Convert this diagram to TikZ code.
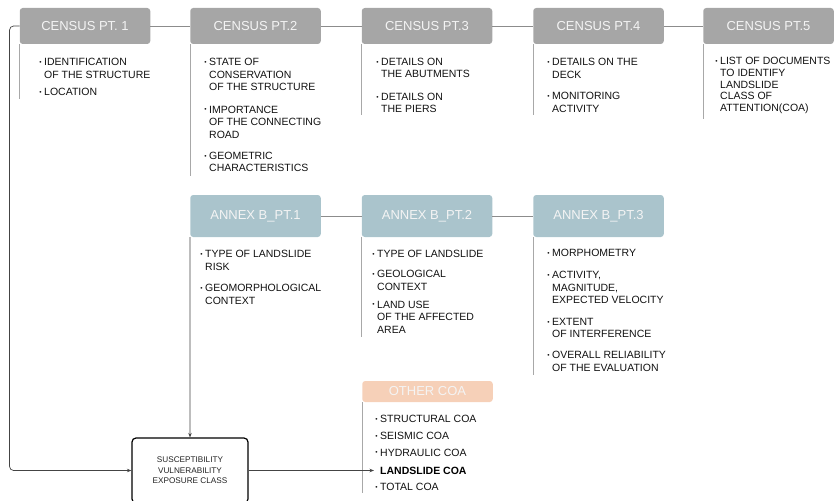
\documentclass[tikz,border=0pt]{standalone}
\usepackage{fontspec}
\setmainfont{Liberation Sans}
\usetikzlibrary{arrows.meta}
\definecolor{censusgray}{HTML}{A6A6A6}
\definecolor{annexblue}{HTML}{AAC4CC}
\definecolor{coapeach}{HTML}{F6D0B8}
\definecolor{titletxt}{HTML}{F4F4F4}
\definecolor{itemtxt}{HTML}{111111}
\definecolor{connclr}{HTML}{8C8C8C}
\definecolor{vlineclr}{HTML}{A8A8A8}
\definecolor{flowclr}{HTML}{444444}
\definecolor{sveclr}{HTML}{222222}
\newcommand{\bul}{\llap{\raisebox{1.2pt}{\fontsize{6.5}{6.5}\selectfont\textbullet}\hspace{2.5pt}}}
\begin{document}
\begin{tikzpicture}[x=1pt,y=-1pt,
  hdr/.style={minimum height=36pt, minimum width=130.5pt, inner sep=0pt, rounded corners=3pt, text=titletxt, font=\fontsize{13}{15}\selectfont},
  census/.style={hdr, fill=censusgray},
  annex/.style={hdr, fill=annexblue, minimum height=42pt},
  coa/.style={hdr, fill=coapeach, minimum height=21pt},
  item/.style={anchor=west, align=left, inner sep=0pt, text=itemtxt, font=\fontsize{10.5}{12.5}\selectfont},
  conn/.style={draw=connclr, line width=0.8pt},
  vline/.style={draw=vlineclr, line width=0.8pt},
  flow/.style={draw=flowclr, line width=0.7pt, -{Stealth[length=4.5pt,width=3.5pt]}},
  svebox/.style={draw=black, line width=1.2pt, rounded corners=4pt, minimum width=116pt, minimum height=65pt, align=center, inner sep=0pt, text=sveclr, font=\fontsize{8.2}{10.5}\selectfont}
]
\useasboundingbox (0,0) rectangle (834,500);

% census headers
\node[census] (c1) at (85,26) {CENSUS PT. 1};
\node[census] (c2) at (255.5,26) {CENSUS PT.2};
\node[census] (c3) at (427,26) {CENSUS PT.3};
\node[census] (c4) at (598.5,26) {CENSUS PT.4};
\node[census] (c5) at (768.5,26) {CENSUS PT.5};
\draw[conn] (c1.east) -- (c2.west);
\draw[conn] (c2.east) -- (c3.west);
\draw[conn] (c3.east) -- (c4.west);
\draw[conn] (c4.east) -- (c5.west);

\draw[vline] (c1.south west) -- ++(0,55);
\draw[vline] (c2.south west) -- ++(0,132);
\draw[vline] (c3.south west) -- ++(0,71);
\draw[vline] (c4.south west) -- ++(0,71);
\draw[vline] (c5.south west) -- ++(0,75);

% census items
\node[item] (c1i1) at (44,68.5) {\bul IDENTIFICATION\\OF THE STRUCTURE};
\node[item] (c1i2) at (44,92) {\bul LOCATION};
\node[item] (c2i1) at (209,74.5) {\bul STATE OF\\CONSERVATION\\OF THE STRUCTURE};
\node[item] (c2i2) at (209,122) {\bul IMPORTANCE\\OF THE CONNECTING\\ROAD};
\node[item] (c2i3) at (209,162) {\bul GEOMETRIC\\CHARACTERISTICS};
\node[item] (c3i1) at (381,68) {\bul DETAILS ON\\THE ABUTMENTS};
\node[item] (c3i2) at (381,103) {\bul DETAILS ON\\THE PIERS};
\node[item] (c4i1) at (552,68.5) {\bul DETAILS ON THE\\DECK};
\node[item] (c4i2) at (552,102.5) {\bul MONITORING\\ACTIVITY};
\node[item, font=\fontsize{10.5}{11.75}\selectfont] (c5i1) at (720,85.5) {\bul LIST OF DOCUMENTS\\TO IDENTIFY\\LANDSLIDE\\CLASS OF\\ATTENTION(COA)};

% annex headers
\node[annex] (a1) at (255.5,216) {ANNEX B\_PT.1};
\node[annex] (a2) at (427,216) {ANNEX B\_PT.2};
\node[annex] (a3) at (598.5,216) {ANNEX B\_PT.3};
\draw[conn] (a1.east) -- (a2.west);
\draw[conn] (a2.east) -- (a3.west);
\draw[vline] (a2.south west) -- ++(0,100);
\draw[vline] (a3.south west) -- ++(0,138);

% annex items
\node[item] (a1i1) at (205,260.5) {\bul TYPE OF LANDSLIDE\\RISK};
\node[item] (a1i2) at (205,294.5) {\bul GEOMORPHOLOGICAL\\CONTEXT};
\node[item] (a2i1) at (377,254) {\bul TYPE OF LANDSLIDE};
\node[item] (a2i2) at (377,280.5) {\bul GEOLOGICAL\\CONTEXT};
\node[item] (a2i3) at (377,317) {\bul LAND USE\\OF THE AFFECTED\\AREA};
\node[item] (a3i1) at (552,253) {\bul MORPHOMETRY};
\node[item] (a3i2) at (552,287.5) {\bul ACTIVITY,\\MAGNITUDE,\\EXPECTED VELOCITY};
\node[item] (a3i3) at (552,328) {\bul EXTENT\\OF INTERFERENCE};
\node[item] (a3i4) at (552,361.5) {\bul OVERALL RELIABILITY\\OF THE EVALUATION};

% other COA
\node[coa] (o) at (427.5,391.5) {OTHER COA};
\draw[vline] (o.south west) -- ++(0,91);
\node[item] (o1) at (380,419) {\bul STRUCTURAL COA};
\node[item] (o2) at (380,436) {\bul SEISMIC COA};
\node[item] (o3) at (380,452.5) {\bul HYDRAULIC COA};
\node[item, text=black] (o4) at (380,470.5) {\textbf{LANDSLIDE COA}};
\node[item] (o5) at (380,487) {\bul TOTAL COA};

% SVE box
\node[svebox] (s) at (190,470.5) {SUSCEPTIBILITY\\VULNERABILITY\\EXPOSURE CLASS};

% flows
\draw[flow, rounded corners=4pt] (c1.west) -- ++(-10,0) |- (s.west);
\draw[flow] (a1.south west) -- (s.north);
\draw[flow, shorten >=6pt] (s.east) -- (s.east -| o4.west);
\end{tikzpicture}
\end{document}
